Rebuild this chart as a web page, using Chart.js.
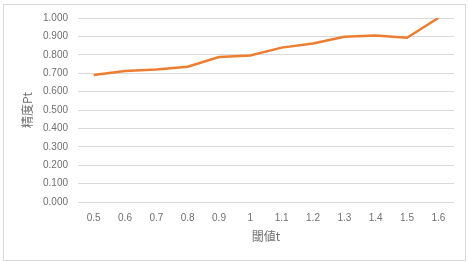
<!DOCTYPE html>
<html><head><meta charset="utf-8">
<script src="https://cdn.jsdelivr.net/npm/chart.js@4"></script>
<style>html,body{margin:0;padding:0;background:#fff}#w{position:relative;width:469px;height:262px}</style>
</head><body><div id="w"><canvas id="c" width="469" height="262"></canvas></div>
<script>
const categories = ["0.5","0.6","0.7","0.8","0.9","1","1.1","1.2","1.3","1.4","1.5","1.6"];
const precision = [0.690,0.712,0.720,0.735,0.788,0.796,0.839,0.861,0.898,0.905,0.893,1.000];
const yTitle = "精度Pt";
const xTitle = "閾値t";
const border = {id:'border',beforeDraw(ch){const c=ch.ctx;c.save();c.strokeStyle='#d9d9d9';c.lineWidth=1;c.strokeRect(3.5,4.5,462,256);c.restore();}};
new Chart(document.getElementById('c'),{
 type:'line',
 data:{labels:categories,datasets:[{data:precision,borderColor:'#ED7D31',borderWidth:2.5,pointRadius:0,tension:0,fill:false}]},
 options:{responsive:false,animation:false,
  layout:{padding:{left:12,right:15,top:18,bottom:18}},
  plugins:{legend:{display:false},tooltip:{enabled:false}},
  scales:{
   x:{offset:true,grid:{display:false},border:{display:false},
      ticks:{color:'#707070',font:{family:'Liberation Sans',size:10},padding:2,maxRotation:0},
      title:{display:true,text:xTitle,color:'#707070',font:{family:'Noto Sans CJK JP',size:12},padding:{top:4,bottom:0}},
      afterFit(s){s.height=42;}},
   y:{min:0,max:1,ticks:{stepSize:0.1,color:'#707070',font:{family:'Liberation Sans',size:10},padding:10,callback:v=>Number(v).toFixed(3)},
      grid:{color:'#d9d9d9',drawTicks:false},border:{display:false},
      title:{display:true,text:yTitle,color:'#707070',font:{family:'Noto Sans CJK JP',size:12},padding:{top:8,bottom:4}},
      afterFit(s){s.width=66;}}
  }},
 plugins:[border]
});
</script></body></html>
